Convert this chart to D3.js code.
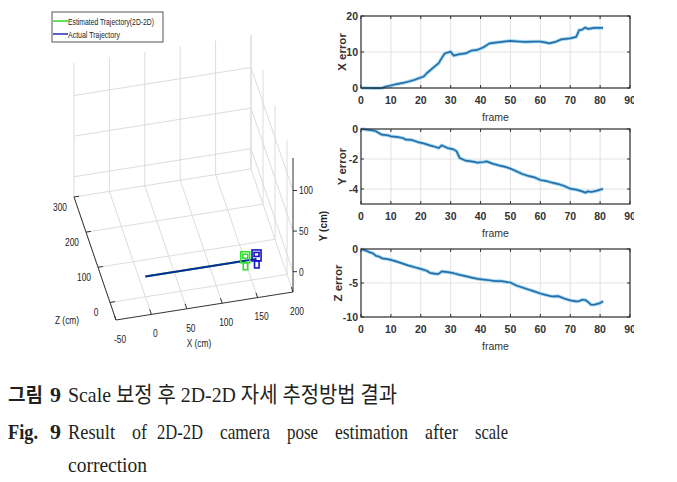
<!DOCTYPE html>
<html><head><meta charset="utf-8">
<script src="https://cdn.jsdelivr.net/npm/d3@7"></script>
<style>body{margin:0;background:#fff}svg{display:block}</style>
</head><body><svg id="c" width="677" height="482"></svg>
<script>
// ---------------- data ----------------
const xErrFrames = [0,2,4,6,7,8,10,12,14,16,18,20,21,22,24,26,27,28,30,31,33,35,37,39,41,43,45,47,50,53,55,58,60,62,63,65,67,70,72,73,74,75,76,78,81];
const xErrValues = [0,0,-0.05,-0.05,0,0.3,0.7,1.1,1.4,1.8,2.3,2.9,3.2,4.1,5.5,6.9,8.3,9.6,10.1,9.0,9.4,9.6,10.4,10.6,11.3,12.4,12.6,12.8,13.1,12.9,12.8,12.9,12.9,12.6,12.4,12.8,13.5,13.8,14.2,16.1,16.2,16.8,16.4,16.7,16.7];
const yErrFrames = [0,2,4,5,6,7,9,10,12,14,15,17,19,21,23,25,26,27,28,29,31,32,33,34,35,37,39,41,42,44,46,48,50,52,54,56,58,60,62,64,66,68,70,72,74,75,76,77,79,81];
const yErrValues = [0,-0.05,-0.1,-0.15,-0.27,-0.38,-0.42,-0.49,-0.53,-0.6,-0.71,-0.73,-0.87,-0.96,-1.09,-1.2,-1.27,-1.09,-1.18,-1.27,-1.36,-1.49,-1.93,-2.02,-2.11,-2.16,-2.24,-2.2,-2.16,-2.31,-2.42,-2.51,-2.64,-2.82,-3.0,-3.13,-3.22,-3.4,-3.47,-3.58,-3.67,-3.8,-3.98,-4.04,-4.16,-4.24,-4.16,-4.2,-4.11,-3.98];
const zErrFrames = [0,2,3,4,5,6,7,9,10,12,14,16,18,20,22,23,25,26,27,29,31,33,35,37,39,41,43,45,47,49,50,52,54,56,58,60,62,64,66,68,70,72,73,74,75,76,77,78,80,81];
const zErrValues = [0,-0.3,-0.5,-0.63,-1.0,-1.1,-1.37,-1.5,-1.6,-1.85,-2.15,-2.44,-2.68,-2.93,-3.2,-3.5,-3.66,-3.66,-3.3,-3.4,-3.56,-3.8,-4.0,-4.2,-4.39,-4.49,-4.6,-4.73,-4.73,-4.88,-4.93,-5.37,-5.66,-5.95,-6.24,-6.54,-6.78,-6.98,-6.93,-7.27,-7.56,-7.7,-7.66,-7.46,-7.5,-7.8,-8.2,-8.2,-7.95,-7.7];
const frameTicks = [0,10,20,30,40,50,60,70,80,90];
const xErrTicks = [0,10,20];
const yErrTicks = [-4,-2,0];
const zErrTicks = [-10,-5,0];
const errLabels = ["X error","Y error","Z error"];

// 3D trajectory
const xTicks3 = [-50,0,50,100,150,200];
const yTicks3 = [0,50,100];
const zTicks3 = [0,100,200,300];
const actualX = [0,157], actualY = [0,0], actualZ = [0,0];
const estX = [0,141], estY = [0,0], estZ = [0,0];
const legendLabels = ["Estimated Trajectory(2D-2D)","Actual Trajectory"];

// caption
const captionKo = "Scale 보정 후 2D-2D 자세 추정방법 결과";
const captionEnWords = ["Result","of","2D-2D","camera","pose","estimation","after","scale"];
const captionEnLine3 = "correction";

// ---------------- drawing ----------------
const svg = d3.select('#c');
const FONT = "'Liberation Sans', Arial, sans-serif";

// 3D projection through linear scales
const X3 = d3.scaleLinear([-50,200],[0,1]);
const Y3 = d3.scaleLinear([-25,140],[0,1]);
const Z3 = d3.scaleLinear([-50,300],[0,1]);
const C0=[116,320], VX=[177,-28], VY=[0,-134], VZ=[-42,-123];
function P(x,y,z){const u=X3(x),v=Y3(y),w=Z3(z);
  return [C0[0]+u*VX[0]+v*VY[0]+w*VZ[0], C0[1]+u*VX[1]+v*VY[1]+w*VZ[1]];}
const [x0,x1]=X3.domain(), [y0,y1]=Y3.domain(), [z0,z1]=Z3.domain();
const g3 = svg.append('g');
const gridSegs = [];
xTicks3.forEach(X=>{gridSegs.push([P(X,y0,z1),P(X,y1,z1)]); gridSegs.push([P(X,y0,z0),P(X,y0,z1)]);});
yTicks3.forEach(Y=>{gridSegs.push([P(x0,Y,z1),P(x1,Y,z1)]); gridSegs.push([P(x1,Y,z0),P(x1,Y,z1)]);});
zTicks3.forEach(Z=>{gridSegs.push([P(x0,y0,Z),P(x1,y0,Z)]); gridSegs.push([P(x1,y0,Z),P(x1,y1,Z)]);});
g3.selectAll('line.grid').data(gridSegs).join('line')
  .attr('x1',d=>d[0][0]).attr('y1',d=>d[0][1]).attr('x2',d=>d[1][0]).attr('y2',d=>d[1][1])
  .attr('stroke','#dcdcdc').attr('stroke-width',1);
const axSegs = [[P(x0,y0,z0),P(x0,y0,z1)],[P(x0,y0,z0),P(x1,y0,z0)],[P(x1,y0,z0),P(x1,y1,z0)]];
g3.selectAll('line.ax').data(axSegs).join('line')
  .attr('x1',d=>d[0][0]).attr('y1',d=>d[0][1]).attr('x2',d=>d[1][0]).attr('y2',d=>d[1][1])
  .attr('stroke','#333').attr('stroke-width',1);
const tickSegs = [];
xTicks3.forEach(X=>tickSegs.push([P(X,y0,z0),P(X,y0,z0+14)]));
zTicks3.forEach(Z=>tickSegs.push([P(x0,y0,Z),P(x0+7,y0,Z)]));
yTicks3.forEach(Y=>{const p=P(x1,Y,z0); tickSegs.push([p,[p[0]+4,p[1]]]);});
g3.selectAll('line.tk').data(tickSegs).join('line')
  .attr('x1',d=>d[0][0]).attr('y1',d=>d[0][1]).attr('x2',d=>d[1][0]).attr('y2',d=>d[1][1])
  .attr('stroke','#333').attr('stroke-width',1);
const lab3 = (txt,x,y,anchor)=>g3.append('text').attr('transform',`translate(${x},${y}) scale(0.8,1)`)
  .attr('text-anchor',anchor||'middle').attr('dominant-baseline','central').attr('font-family',FONT)
  .attr('font-size',10.5).attr('fill','#222').text(txt);
xTicks3.forEach(X=>{const p=P(X,y0,z0); lab3(String(X),p[0]+4,p[1]+19);});
zTicks3.forEach(Z=>{const p=P(x0,y0,Z); lab3(String(Z),p[0]-14,p[1]+10);});
yTicks3.forEach(Y=>{const p=P(x1,Y,z0); lab3(String(Y),p[0]+6,p[1],'start');});
lab3('X (cm)',199,343); lab3('Z (cm)',67,320);
g3.append('text').attr('transform','translate(323,226) rotate(-90)').attr('text-anchor','middle')
  .attr('dominant-baseline','central').attr('font-family',FONT).attr('font-weight','bold').attr('font-size',10).attr('fill','#222').text('Y (cm)');
const traj = d3.line();
const estPts = estX.map((x,i)=>P(x,estY[i],estZ[i]));
const actPts = actualX.map((x,i)=>P(x,actualY[i],actualZ[i]));
g3.append('path').attr('d',traj(estPts)).attr('fill','none').attr('stroke','#22cc22').attr('stroke-width',2);
g3.append('path').attr('d',traj(actPts)).attr('fill','none').attr('stroke','#0c2aa0').attr('stroke-width',2);
function camera(p,color){
  const [cx,cy]=p; const c=g3.append('g').attr('fill','none').attr('stroke',color).attr('stroke-width',1.6);
  c.append('rect').attr('x',cx-4.5).attr('y',cy-9).attr('width',9).attr('height',11);
  c.append('rect').attr('x',cx-2.5).attr('y',cy-6.5).attr('width',5).attr('height',4);
  c.append('rect').attr('x',cx-2).attr('y',cy+2).attr('width',4.5).attr('height',7);
}
camera(estPts[estPts.length-1],'#33dd33');
camera(actPts[actPts.length-1],'#1515c8');
const lg = svg.append('g');
lg.append('rect').attr('x',52).attr('y',12).attr('width',111).attr('height',30).attr('fill','#fff').attr('stroke','#555').attr('stroke-width',1);
[['#33dd33',21],['#3535c0',34]].forEach(([c,y],i)=>{
  lg.append('line').attr('x1',53).attr('x2',68).attr('y1',y).attr('y2',y).attr('stroke',c).attr('stroke-width',1.6);
  lg.append('text').attr('x',68).attr('y',y).attr('dominant-baseline','central').attr('font-family',FONT)
    .attr('font-size',9.5).attr('fill','#222').attr('textLength',i===0?86:52).attr('lengthAdjust','spacingAndGlyphs').text(legendLabels[i]);
});

// ---------------- error subplots ----------------
svg.append('clipPath').attr('id','rc').append('rect').attr('x',0).attr('y',0).attr('width',634).attr('height',482);
const panels = [
  {frames:xErrFrames, values:xErrValues, ticks:xErrTicks, dom:[0,20], top:16, bottom:88, lab:errLabels[0], lx:342},
  {frames:yErrFrames, values:yErrValues, ticks:yErrTicks, dom:[-5,0], top:129, bottom:204, lab:errLabels[1], lx:342},
  {frames:zErrFrames, values:zErrValues, ticks:zErrTicks, dom:[-10,0], top:249, bottom:317, lab:errLabels[2], lx:338}
];
const L=361, R=630;
const fx = d3.scaleLinear([0,90],[L,R]);
const rg = svg.append('g').attr('clip-path','url(#rc)');
panels.forEach(pn=>{
  const fy = d3.scaleLinear(pn.dom,[pn.bottom,pn.top]);
  const g = rg.append('g');
  g.selectAll('line.vg').data(frameTicks.slice(1,-1)).join('line')
    .attr('x1',d=>fx(d)).attr('x2',d=>fx(d)).attr('y1',pn.top).attr('y2',pn.bottom).attr('stroke','#e2e2e2');
  g.selectAll('line.hg').data(pn.ticks.filter(t=>t>pn.dom[0]&&t<pn.dom[1])).join('line')
    .attr('x1',L).attr('x2',R).attr('y1',d=>fy(d)).attr('y2',d=>fy(d)).attr('stroke','#e2e2e2');
  frameTicks.forEach(t=>{
    g.append('line').attr('x1',fx(t)).attr('x2',fx(t)).attr('y1',pn.bottom).attr('y2',pn.bottom-3).attr('stroke','#333');
    g.append('line').attr('x1',fx(t)).attr('x2',fx(t)).attr('y1',pn.top).attr('y2',pn.top+3).attr('stroke','#333');
  });
  pn.ticks.forEach(t=>{
    g.append('line').attr('x1',L).attr('x2',L+3).attr('y1',fy(t)).attr('y2',fy(t)).attr('stroke','#333');
    g.append('line').attr('x1',R).attr('x2',R-3).attr('y1',fy(t)).attr('y2',fy(t)).attr('stroke','#333');
  });
  const line = d3.line().x((d,i)=>fx(pn.frames[i])).y(d=>fy(d));
  g.append('path').attr('d',line(pn.values)).attr('fill','none').attr('stroke','#a6d9f2').attr('stroke-width',3.6).attr('stroke-linejoin','round');
  g.append('path').attr('d',line(pn.values)).attr('fill','none').attr('stroke','#276fa8').attr('stroke-width',1.7).attr('stroke-linejoin','round');
  g.append('rect').attr('x',L).attr('y',pn.top).attr('width',R-L).attr('height',pn.bottom-pn.top).attr('fill','none').attr('stroke','#2b2b2b').attr('stroke-width',1.2);
  g.selectAll('text.xt').data(frameTicks).join('text').attr('x',d=>fx(d)).attr('y',pn.bottom+12)
    .attr('text-anchor','middle').attr('dominant-baseline','central').attr('font-family',FONT).attr('font-weight','bold')
    .attr('font-size',10.5).attr('fill','#333').text(d=>d);
  g.selectAll('text.yt').data(pn.ticks).join('text').attr('x',358).attr('y',d=>fy(d))
    .attr('text-anchor','end').attr('dominant-baseline','central').attr('font-family',FONT).attr('font-weight','bold')
    .attr('font-size',10.5).attr('fill','#333').text(d=>d);
  g.append('text').attr('x',(L+R)/2).attr('y',pn.bottom+29).attr('text-anchor','middle').attr('dominant-baseline','central')
    .attr('font-family',FONT).attr('font-size',10.5).attr('fill','#333').text('frame');
  g.append('text').attr('transform',`translate(${pn.lx},${(pn.top+pn.bottom)/2}) rotate(-90)`).attr('text-anchor','middle')
    .attr('dominant-baseline','central').attr('font-family',FONT).attr('font-weight','bold').attr('font-size',11.5).attr('fill','#333').text(pn.lab);
});

// ---------------- caption ----------------
const cap = svg.append('g').attr('fill','#231f20');
const SERIF = "'Liberation Serif','Noto Sans CJK KR',serif";
const KO = "'Noto Sans CJK KR',sans-serif";
cap.append('text').attr('x',8).attr('y',402).attr('font-family',KO).attr('font-weight','bold').attr('font-size',19)
  .attr('textLength',35).attr('lengthAdjust','spacingAndGlyphs').text('그림');
cap.append('text').attr('x',50).attr('y',402).attr('font-family',SERIF).attr('font-weight','bold').attr('font-size',22).text('9');
cap.append('text').attr('x',68).attr('y',402).attr('font-family',SERIF).attr('font-size',22)
  .attr('textLength',329).attr('lengthAdjust','spacingAndGlyphs').text(captionKo);
cap.append('text').attr('x',8).attr('y',439).attr('font-family',SERIF).attr('font-weight','bold').attr('font-size',22)
  .attr('textLength',30).attr('lengthAdjust','spacingAndGlyphs').text('Fig.');
cap.append('text').attr('x',50).attr('y',439).attr('font-family',SERIF).attr('font-weight','bold').attr('font-size',22).text('9');
const wordPos = [[68,115],[132,147],[157,203],[220,270],[287,318],[335,408],[425,458],[475,508]];
captionEnWords.forEach((w,i)=>{
  cap.append('text').attr('x',wordPos[i][0]).attr('y',439).attr('font-family',SERIF).attr('font-size',21)
    .attr('textLength',wordPos[i][1]-wordPos[i][0]).attr('lengthAdjust','spacingAndGlyphs').text(w);
});
cap.append('text').attr('x',68).attr('y',472).attr('font-family',SERIF).attr('font-size',22)
  .attr('textLength',79).attr('lengthAdjust','spacingAndGlyphs').text(captionEnLine3);
</script></body></html>
